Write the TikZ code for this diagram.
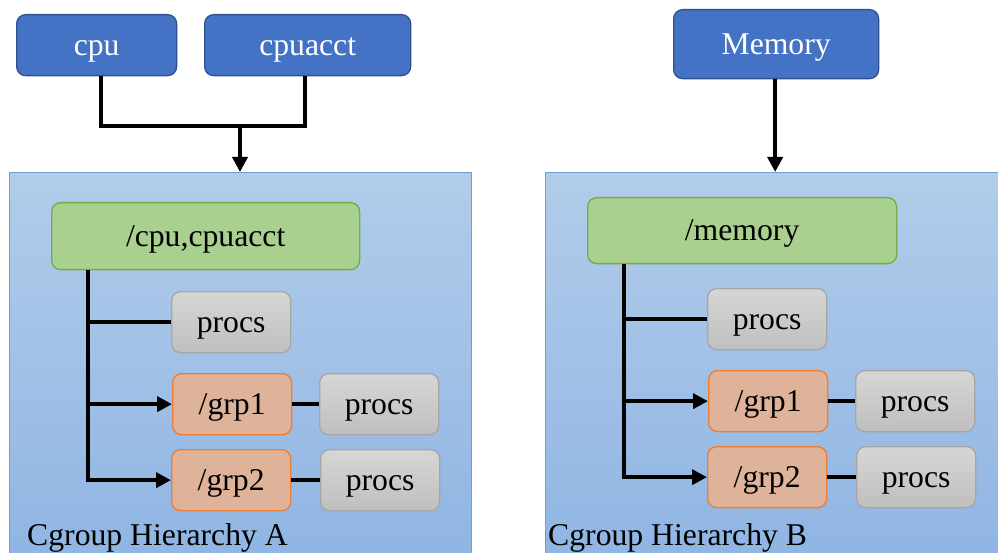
\documentclass[tikz,border=0pt]{standalone}
\usepackage{fontspec}
\newfontfamily\diagfont{Liberation Serif}
\newcommand{\diagsize}{\diagfont\fontsize{31.7}{38}\selectfont}
\usetikzlibrary{arrows.meta,calc}
\definecolor{ctrlfill}{HTML}{4472C4}
\definecolor{ctrlline}{HTML}{2F528F}
\definecolor{hierTop}{HTML}{B2CCEA}
\definecolor{hierBot}{HTML}{8FB5E3}
\definecolor{hierLine}{HTML}{6A9FD8}
\definecolor{rootfill}{HTML}{A9D08E}
\definecolor{rootline}{HTML}{70AD47}
\definecolor{grpfill}{HTML}{DFB39A}
\definecolor{grpline}{HTML}{ED7D31}
\definecolor{procTop}{HTML}{D6D6D6}
\definecolor{procBot}{HTML}{BFBFBF}
\definecolor{procLine}{HTML}{A6A6A6}
\tikzset{
  lbl/.style={inner sep=0pt},
  box/.style={lbl, rounded corners=9pt, line width=1.3pt, anchor=north west,
    text height=20pt, text depth=0pt},
  ctrl/.style={box, fill=ctrlfill, draw=ctrlline, text=white},
  hier/.style={anchor=north west, top color=hierTop, bottom color=hierBot, draw=hierLine, line width=1pt},
  rootbox/.style={box, fill=rootfill, draw=rootline},
  grpbox/.style={box, fill=grpfill, draw=grpline},
  procbox/.style={box, top color=procTop, bottom color=procBot, draw=procLine},
  wire/.style={line width=4pt, black},
  arrowwire/.style={wire, -{Triangle[length=15pt,width=15pt]}},
  caption/.style={lbl, anchor=base west}
}
\newcommand{\bx}[7]{% style, name, x0, y0, x1, y1, text
  \node[#1, minimum width={#5-#3}, minimum height={#6-#4}] (#2) at (#3,#4) {\diagsize #7};}
\begin{document}
\begin{tikzpicture}[x=1pt,y=-1pt]
\useasboundingbox (0,0) rectangle (998,553);

% hierarchy panels
\node[hier, minimum width=462, minimum height=390] (hierA) at (9,172) {};
\node[hier, minimum width=460, minimum height=390] (hierB) at (545,172) {};
\node[caption] (capA) at (27,545) {\diagsize Cgroup Hierarchy A};
\node[caption] (capB) at (548,545) {\diagsize Cgroup Hierarchy B};

% controllers
\bx{ctrl}{cpu}{16}{14}{176}{75}{cpu}
\bx{ctrl}{cpuacct}{204}{14}{410}{75}{cpuacct}
\bx{ctrl}{mem}{673}{9}{878}{78}{Memory}

% hierarchy A
\bx{rootbox}{rootA}{51}{202}{359}{269}{/cpu,cpuacct}
\bx{procbox}{pA0}{171}{291}{290}{352}{procs}
\bx{grpbox}{gA1}{172}{373}{291}{434}{/grp1}
\bx{procbox}{pA1}{319}{373}{438}{434}{procs}
\bx{grpbox}{gA2}{171}{449}{290}{510}{/grp2}
\bx{procbox}{pA2}{320}{449}{439}{510}{procs}

% hierarchy B
\bx{rootbox}{rootB}{587}{197}{896}{263}{/memory}
\bx{procbox}{pB0}{707}{288}{826}{349}{procs}
\bx{grpbox}{gB1}{708}{370}{827}{431}{/grp1}
\bx{procbox}{pB1}{855}{370}{974}{431}{procs}
\bx{grpbox}{gB2}{707}{446}{826}{507}{/grp2}
\bx{procbox}{pB2}{856}{446}{975}{507}{procs}

% controllers attach to hierarchies
\coordinate (joinA) at (240,126);
\draw[wire] ([xshift=4]cpu.south) |- (joinA) -| ([xshift=-3]cpuacct.south);
\draw[arrowwire] (joinA) -- (joinA |- hierA.north);
\draw[arrowwire] ([xshift=-1]mem.south) -- ([xshift=-1]mem.south |- hierB.north);

% tree of hierarchy A
\coordinate (trunkA) at ([xshift=37]rootA.south west);
\draw[wire] (trunkA) |- (pA0.west);
\draw[arrowwire] (trunkA) |- (gA1.west);
\draw[arrowwire] (trunkA) |- (gA2.west);
\draw[wire] (gA1.east) -- (pA1.west |- gA1.east);
\draw[wire] (gA2.east) -- (pA2.west |- gA2.east);

% tree of hierarchy B
\coordinate (trunkB) at ([xshift=37]rootB.south west);
\draw[wire] (trunkB) |- (pB0.west);
\draw[arrowwire] (trunkB) |- (gB1.west);
\draw[arrowwire] (trunkB) |- (gB2.west);
\draw[wire] (gB1.east) -- (pB1.west |- gB1.east);
\draw[wire] (gB2.east) -- (pB2.west |- gB2.east);
\end{tikzpicture}
\end{document}
